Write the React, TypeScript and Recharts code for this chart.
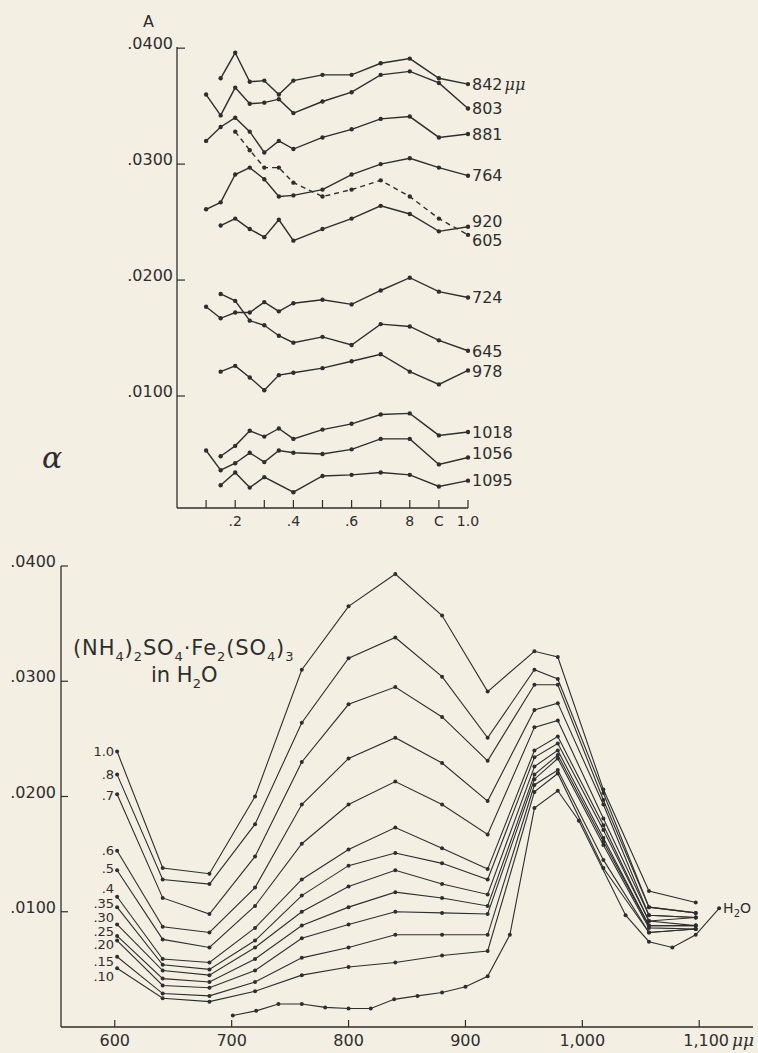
import React from 'react';
import { LineChart, Line, XAxis, YAxis } from 'recharts';

const INK = '#2e2e2e';
const PAPER = '#f3efe3';
const FONT = '"DejaVu Sans", sans-serif';

// ---------- Top chart (A vs concentration) ----------
const concentrations = [0.1, 0.15, 0.2, 0.25, 0.3, 0.35, 0.4, 0.5, 0.6, 0.7, 0.8, 0.9, 1.0];
const a842 = [null, 0.0374, 0.0396, 0.0371, 0.0372, 0.0360, 0.0372, 0.0377, 0.0377, 0.0387, 0.0391, 0.0374, 0.0369];
const a803 = [0.0360, 0.0342, 0.0366, 0.0352, 0.0353, 0.0356, 0.0344, 0.0354, 0.0362, 0.0377, 0.0380, 0.0370, 0.0348];
const a881 = [0.0320, 0.0332, 0.0340, 0.0328, 0.0310, 0.0320, 0.0313, 0.0323, 0.0330, 0.0339, 0.0341, 0.0323, 0.0326];
const a764 = [0.0261, 0.0267, 0.0291, 0.0297, 0.0287, 0.0272, 0.0273, 0.0278, 0.0291, 0.0300, 0.0305, 0.0297, 0.0290];
const a605 = [null, null, 0.0328, 0.0312, 0.0297, 0.0297, 0.0284, 0.0272, 0.0278, 0.0286, 0.0272, 0.0253, 0.0239];
const a920 = [null, 0.0247, 0.0253, 0.0244, 0.0237, 0.0252, 0.0234, 0.0244, 0.0253, 0.0264, 0.0257, 0.0242, 0.0246];
const a724 = [0.0177, 0.0167, 0.0172, 0.0172, 0.0181, 0.0173, 0.0180, 0.0183, 0.0179, 0.0191, 0.0202, 0.0190, 0.0185];
const a645 = [null, 0.0188, 0.0182, 0.0165, 0.0161, 0.0152, 0.0146, 0.0151, 0.0144, 0.0162, 0.0160, 0.0148, 0.0139];
const a978 = [null, 0.0121, 0.0126, 0.0116, 0.0105, 0.0118, 0.0120, 0.0124, 0.0130, 0.0136, 0.0121, 0.0110, 0.0122];
const a1018 = [null, 0.0048, 0.0057, 0.0070, 0.0065, 0.0072, 0.0063, 0.0071, 0.0076, 0.0084, 0.0085, 0.0066, 0.0069];
const a1056 = [0.0053, 0.0036, 0.0042, 0.0051, 0.0043, 0.0053, 0.0051, 0.0050, 0.0054, 0.0063, 0.0063, 0.0041, 0.0047];
const a1095 = [null, 0.0023, 0.0034, 0.0021, 0.0030, null, 0.0017, 0.0031, 0.0032, 0.0034, 0.0032, 0.0022, 0.0027];

const topXTicks = [0.1, 0.2, 0.3, 0.4, 0.5, 0.6, 0.7, 0.8, 0.9, 1.0];
const topXTickLabels = ['', '.2', '', '.4', '', '.6', '', '8', 'C', '1.0'];
const topYTicks = [0.01, 0.02, 0.03, 0.04];

// ---------- Bottom chart (alpha vs wavelength) ----------
const wavelengths = [602, 641, 681, 720, 760, 800, 840, 880, 919, 959, 979, 1018, 1057, 1097];
const c100 = [0.0239, 0.0138, 0.0133, 0.0200, 0.0310, 0.0365, 0.0393, 0.0357, 0.0291, 0.0326, 0.0321, 0.0206, 0.0118, 0.0108];
const c080 = [0.0219, 0.0128, 0.0124, 0.0176, 0.0264, 0.0320, 0.0338, 0.0304, 0.0251, 0.0310, 0.0302, 0.0203, 0.0104, 0.0099];
const c070 = [0.0202, 0.0112, 0.0098, 0.0148, 0.0230, 0.0280, 0.0295, 0.0269, 0.0231, 0.0297, 0.0297, 0.0197, 0.0104, 0.0099];
const c060 = [0.0153, 0.0087, 0.0082, 0.0121, 0.0193, 0.0233, 0.0251, 0.0229, 0.0196, 0.0275, 0.0281, 0.0193, 0.0097, 0.0095];
const c050 = [0.0136, 0.0076, 0.0069, 0.0105, 0.0159, 0.0193, 0.0213, 0.0193, 0.0167, 0.0260, 0.0266, 0.0181, 0.0097, 0.0095];
const c040 = [0.0113, 0.0059, 0.0056, 0.0086, 0.0128, 0.0154, 0.0173, 0.0155, 0.0137, 0.0240, 0.0252, 0.0175, 0.0092, 0.0095];
const c035 = [0.0104, 0.0054, 0.0050, 0.0075, 0.0114, 0.0140, 0.0151, 0.0142, 0.0128, 0.0234, 0.0246, 0.0171, 0.0092, 0.0088];
const c030 = [0.0089, 0.0049, 0.0045, 0.0069, 0.0100, 0.0122, 0.0136, 0.0124, 0.0115, 0.0226, 0.0240, 0.0164, 0.0088, 0.0088];
const c025 = [0.0079, 0.0042, 0.0039, 0.0059, 0.0088, 0.0104, 0.0117, 0.0112, 0.0105, 0.0219, 0.0236, 0.0161, 0.0088, 0.0088];
const c020 = [0.0075, 0.0036, 0.0034, 0.0049, 0.0077, 0.0089, 0.0100, 0.0099, 0.0098, 0.0215, 0.0233, 0.0158, 0.0086, 0.0085];
const c015 = [0.0061, 0.0029, 0.0027, 0.0039, 0.0060, 0.0069, 0.0080, 0.0080, 0.0080, 0.0210, 0.0223, 0.0145, 0.0082, 0.0085];
const c010 = [0.0051, 0.0025, 0.0022, 0.0031, 0.0045, 0.0052, 0.0056, 0.0062, 0.0066, 0.0204, 0.0220, 0.0138, 0.0082, 0.0085];

const h2oWavelengths = [701, 721, 740, 760, 780, 800, 819, 839, 859, 880, 900, 919, 938, 959, 979, 997, 1037, 1057, 1077, 1097, 1117];
const h2oValues = [0.0010, 0.0014, 0.0020, 0.0020, 0.0017, 0.0016, 0.0016, 0.0024, 0.0027, 0.0030, 0.0035, 0.0044, 0.0080, 0.0190, 0.0205, 0.0179, 0.0097, 0.0074, 0.0069, 0.0080, 0.0103];

const bottomXTicks = [600, 700, 800, 900, 1000, 1100];
const bottomXTickLabels = ['600', '700', '800', '900', '1,000', '1,100'];
const bottomYTicks = [0.01, 0.02, 0.03, 0.04];

// ---------- helpers ----------
const build = (xs: number[], ys: (number | null)[]) =>
  xs.map((x, i) => ({ x, y: ys[i] })).filter((d) => d.y !== null && d.y !== undefined);

const fmtY = (v: number) => '.' + String(Math.round(v * 10000)).padStart(4, '0');

const makeDot = (
  labelIndex: number,
  label: React.ReactNode,
  side: 'left' | 'right',
  dy: number,
  fontSize: number,
  r: number
) => (p: any) => {
  const { cx, cy, index } = p;
  if (cx == null || cy == null) return <g key={`e${index}`} />;
  return (
    <g key={`d${index}`}>
      <circle cx={cx} cy={cy} r={r} fill={INK} />
      {index === labelIndex ? (
        <text
          x={side === 'right' ? cx + 4 : cx - 3}
          y={cy + dy + fontSize * 0.36}
          textAnchor={side === 'right' ? 'start' : 'end'}
          fontSize={fontSize}
          fontFamily={FONT}
          fill={INK}
        >
          {label}
        </text>
      ) : null}
    </g>
  );
};

const TopYTick = (props: any) => {
  const { x, y, payload } = props;
  return (
    <g>
      <line x1={x} y1={y} x2={x + 8} y2={y} stroke={INK} strokeWidth={1.2} />
      <text x={x - 4} y={y + 1} textAnchor="end" fontSize={16} fontFamily={FONT} fill={INK}>
        {fmtY(payload.value)}
      </text>
    </g>
  );
};

const TopXTick = (props: any) => {
  const { x, y, payload, index } = props;
  const i = topXTicks.indexOf(payload.value);
  const lab = i >= 0 ? topXTickLabels[i] : '';
  return (
    <g key={index}>
      <line x1={x} y1={y} x2={x} y2={y - 8} stroke={INK} strokeWidth={1.2} />
      <text x={x} y={y + 18} textAnchor="middle" fontSize={14} fontFamily={FONT} fill={INK}>
        {lab}
      </text>
    </g>
  );
};

const BottomYTick = (props: any) => {
  const { x, y, payload } = props;
  return (
    <g>
      <line x1={x} y1={y} x2={x + 7} y2={y} stroke={INK} strokeWidth={1.2} />
      <text x={x - 5} y={y + 1} textAnchor="end" fontSize={16} fontFamily={FONT} fill={INK}>
        {fmtY(payload.value)}
      </text>
    </g>
  );
};

const BottomXTick = (props: any) => {
  const { x, y, payload } = props;
  const i = bottomXTicks.indexOf(payload.value);
  const lab = i >= 0 ? bottomXTickLabels[i] : '';
  const last = i === bottomXTicks.length - 1;
  return (
    <g>
      <line x1={x} y1={y} x2={x} y2={y - 7} stroke={INK} strokeWidth={1.2} />
      {last ? (
        <text x={x - 16} y={y + 19} textAnchor="start" fontSize={16} fontFamily={FONT} fill={INK}>
          {lab}
          <tspan dx={3} fontStyle="italic" fontFamily='"DejaVu Serif", serif' fontSize={17}>μμ</tspan>
        </text>
      ) : (
        <text x={x} y={y + 19} textAnchor="middle" fontSize={16} fontFamily={FONT} fill={INK}>
          {lab}
        </text>
      )}
    </g>
  );
};

type Part = [string, boolean];
const Chem = ({ x, y, parts, size, spacing }: { x: number; y: number; parts: Part[]; size: number; spacing?: number }) => {
  const sub = size * 0.62;
  const shift = size * 0.28;
  let cur = 0;
  return (
    <text x={x} y={y} fontSize={size} fontFamily={FONT} fill={INK} letterSpacing={spacing || 0}>
      {parts.map(([t, isSub], k) => {
        const target = isSub ? shift : 0;
        const dy = target - cur;
        cur = target;
        return (
          <tspan key={k} dy={dy} fontSize={isSub ? sub : size}>
            {t}
          </tspan>
        );
      })}
    </text>
  );
};

const topSeries = [
  { key: '842', vals: a842, label: <>842<tspan dx={2} fontStyle="italic" fontFamily='"DejaVu Serif", serif'>μμ</tspan></>, dy: 0, dash: undefined },
  { key: '803', vals: a803, label: '803', dy: 0, dash: undefined },
  { key: '881', vals: a881, label: '881', dy: 0, dash: undefined },
  { key: '764', vals: a764, label: '764', dy: 0, dash: undefined },
  { key: '605', vals: a605, label: '605', dy: 5, dash: '5 4' },
  { key: '920', vals: a920, label: '920', dy: -5, dash: undefined },
  { key: '724', vals: a724, label: '724', dy: 0, dash: undefined },
  { key: '645', vals: a645, label: '645', dy: 0, dash: undefined },
  { key: '978', vals: a978, label: '978', dy: 1, dash: undefined },
  { key: '1018', vals: a1018, label: '1018', dy: 0, dash: undefined },
  { key: '1056', vals: a1056, label: '1056', dy: -4, dash: undefined },
  { key: '1095', vals: a1095, label: '1095', dy: 0, dash: undefined },
];

const bottomSeries = [
  { key: '1.0', vals: c100, dy: 0 },
  { key: '.8', vals: c080, dy: 0 },
  { key: '.7', vals: c070, dy: 1 },
  { key: '.6', vals: c060, dy: 0 },
  { key: '.5', vals: c050, dy: -2 },
  { key: '.4', vals: c040, dy: -8 },
  { key: '.35', vals: c035, dy: -4 },
  { key: '.30', vals: c030, dy: -7 },
  { key: '.25', vals: c025, dy: -5 },
  { key: '.20', vals: c020, dy: 4 },
  { key: '.15', vals: c015, dy: 5 },
  { key: '.10', vals: c010, dy: 8 },
];

export default function App() {
  return (
    <div style={{ position: 'absolute', left: 0, top: 0, width: 758, height: 1053, background: PAPER, overflow: 'hidden' }}>
      <div style={{ position: 'absolute', left: 0, top: 0 }}>
        <LineChart width={758} height={540} margin={{ top: 47, right: 290, bottom: 2, left: 117 }}>
          <XAxis
            type="number"
            dataKey="x"
            domain={[0, 1]}
            ticks={topXTicks}
            tick={<TopXTick />}
            tickSize={0}
            tickMargin={0}
            tickLine={false}
            height={30}
            axisLine={{ stroke: INK, strokeWidth: 1.3 }}
            interval={0}
          />
          <YAxis
            type="number"
            domain={[0.00034, 0.0401]}
            ticks={topYTicks}
            tick={<TopYTick />}
            tickSize={0}
            tickMargin={0}
            tickLine={false}
            width={60}
            axisLine={{ stroke: INK, strokeWidth: 1.3 }}
            interval={0}
          />
          {topSeries.map((s) => {
            const data = build(concentrations, s.vals);
            return (
              <Line
                key={s.key}
                data={data}
                dataKey="y"
                type="linear"
                stroke={INK}
                strokeWidth={1.4}
                strokeDasharray={s.dash}
                dot={makeDot(data.length - 1, s.label, 'right', s.dy, 16, 2.2)}
                activeDot={false}
                isAnimationActive={false}
              />
            );
          })}
        </LineChart>
      </div>
      <div style={{ position: 'absolute', left: 0, top: 540 }}>
        <LineChart width={758} height={513} margin={{ top: 26, right: 5, bottom: 6, left: 6 }}>
          <XAxis
            type="number"
            dataKey="x"
            domain={[554, 1146]}
            ticks={bottomXTicks}
            tick={<BottomXTick />}
            tickSize={0}
            tickMargin={0}
            tickLine={false}
            height={20}
            axisLine={{ stroke: INK, strokeWidth: 1.3 }}
            interval={0}
          />
          <YAxis
            type="number"
            domain={[0, 0.04]}
            ticks={bottomYTicks}
            tick={<BottomYTick />}
            tickSize={0}
            tickMargin={0}
            tickLine={false}
            width={55}
            axisLine={{ stroke: INK, strokeWidth: 1.3 }}
            interval={0}
          />
          {bottomSeries.map((s) => (
            <Line
              key={s.key}
              data={build(wavelengths, s.vals)}
              dataKey="y"
              type="linear"
              stroke={INK}
              strokeWidth={1.1}
              dot={makeDot(0, s.key, 'left', s.dy, 13, 2)}
              activeDot={false}
              isAnimationActive={false}
            />
          ))}
          <Line
            key="h2o"
            data={build(h2oWavelengths, h2oValues)}
            dataKey="y"
            type="linear"
            stroke={INK}
            strokeWidth={1.1}
            dot={makeDot(
              h2oWavelengths.length - 1,
              <>H<tspan dy={4} fontSize={10}>2</tspan><tspan dy={-4}>O</tspan></>,
              'right',
              0,
              14,
              2
            )}
            activeDot={false}
            isAnimationActive={false}
          />
        </LineChart>
      </div>
      <svg width={758} height={1053} style={{ position: 'absolute', left: 0, top: 0, pointerEvents: 'none' }}>
        <text x={143} y={27} fontSize={16} fontFamily={FONT} fill={INK}>A</text>
        <text x={42} y={468} fontSize={30} fontStyle="italic" fontFamily='"DejaVu Serif", serif' fill={INK}>α</text>
        <Chem
          x={73}
          y={655}
          size={21}
          spacing={0.9}
          parts={[
            ['(NH', false], ['4', true], [')', false], ['2', true], ['SO', false], ['4', true],
            ['·Fe', false], ['2', true], ['(SO', false], ['4', true], [')', false], ['3', true],
          ]}
        />
        <Chem x={151} y={682} size={21} parts={[['in H', false], ['2', true], ['O', false]]} />
      </svg>
    </div>
  );
}
